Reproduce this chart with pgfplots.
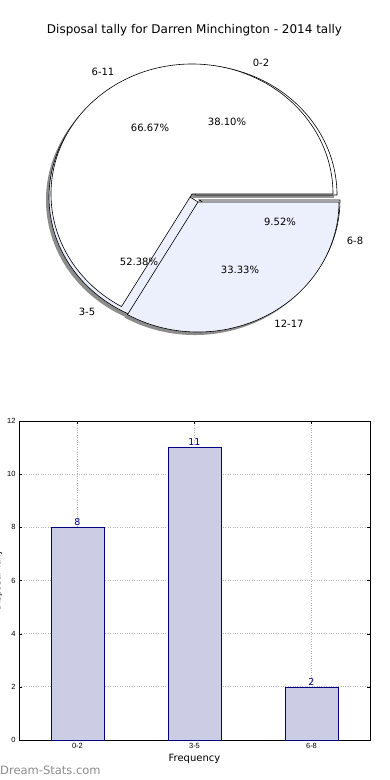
\documentclass[border=0pt]{standalone}
\usepackage{fontspec}
\setmainfont{DejaVu Sans}
\newfontfamily\lib{Liberation Sans}
\usepackage{pgfplots}
\pgfplotsset{compat=1.18}
\usepackage{pgfplotstable}

\definecolor{pieblue}{HTML}{EBF0FC}
\definecolor{barfill}{HTML}{CCCCE5}
\definecolor{navy}{HTML}{000080}

% bar chart data
\pgfplotstableread{
idx label value
0 0-2 8
1 3-5 11
2 6-8 2
}\bardata

% wedge: cx cy startangle endangle style
\newcommand\piewedge[5]{%
  \filldraw[#5] (axis cs:#1,#2) -- ++(#3:141pt and 130pt)
    arc[start angle=#3, end angle=#4, x radius=141pt, y radius=130pt] -- cycle;}

\begin{document}
\begin{tikzpicture}
% ---------------- pie part ----------------
\begin{axis}[at={(0pt,390pt)}, anchor=south west, scale only axis,
  width=390pt, height=390pt, xmin=0, xmax=390, ymin=0, ymax=390,
  hide axis, clip=false]
\addplot[draw=none] coordinates {(0,0) (390,390)};
% shadows
\piewedge{193}{192}{0}{137.143}{fill=black!40, draw=none}
\piewedge{187}{190}{137.143}{325.714}{fill=black!45, draw=none}
\piewedge{196}{187}{325.714}{360}{fill=black!45, draw=none}
\piewedge{189}{193}{0}{240}{fill=black!45, draw=none}
\piewedge{195}{185}{240}{360}{fill=black!45, draw=none}
% pie A (0-2, 3-5, 6-8)
\piewedge{196}{195}{0}{137.143}{fill=white, draw=black, line width=0.6pt}
\piewedge{190}{193}{137.143}{325.714}{fill=pieblue, draw=black, line width=0.6pt}
\piewedge{199}{190}{325.714}{360}{fill=white, draw=black, line width=0.6pt}
% pie B (6-11, 12-17)
\piewedge{192}{196}{0}{240}{fill=white, draw=black, line width=0.6pt}
\piewedge{198}{188}{240}{360}{fill=pieblue, draw=black, line width=0.6pt}
% labels
\begin{scope}[every node/.style={font=\fontsize{10}{12}\selectfont, inner sep=0pt}]
\node at (axis cs:261,327) {0-2};
\node at (axis cs:103,318) {6-11};
\node at (axis cs:355,149) {6-8};
\node at (axis cs:87,78) {3-5};
\node at (axis cs:289,66) {12-17};
\node at (axis cs:227,268) {38.10\%};
\node at (axis cs:150,262) {66.67\%};
\node at (axis cs:280,168) {9.52\%};
\node at (axis cs:139,128) {52.38\%};
\node at (axis cs:240,120) {33.33\%};
\node[font=\fontsize{12}{14}\selectfont] at (axis cs:194.5,360) {Disposal tally for Darren Minchington - 2014 tally};
\end{scope}
\end{axis}

% ---------------- bar part ----------------
\begin{axis}[at={(19pt,40pt)}, anchor=south west, scale only axis,
  width=351pt, height=319pt, xmin=-0.5, xmax=2.5, ymin=0, ymax=12,
  ybar, bar width=0.45,
  ytick={0,2,...,12}, xtick={0,1,2}, xticklabels={0-2,3-5,6-8},
  grid=major, grid style={dotted, gray!60, line width=0.7pt},
  tick align=inside, major tick length=3pt, tick style={black},
  ticklabel style={font=\lib\fontsize{7.5}{9}\selectfont},
  /pgf/number format/assume math mode=true,
  xlabel={Frequency}, xlabel style={font=\fontsize{10}{12}\selectfont, yshift=2pt},
  ylabel={Disposal Tally},
  ylabel style={font=\fontsize{9}{11}\selectfont, at={([xshift=-21pt]axis description cs:0,0.5)}, anchor=center},
  axis line style={black, line width=0.8pt},
  nodes near coords,
  nodes near coords style={navy, font=\fontsize{9.5}{11}\selectfont, inner sep=1.5pt},
]
\addplot[fill=barfill, draw=navy, line width=0.6pt] table[x=idx, y=value] {\bardata};
\end{axis}

\node[anchor=west, font=\fontsize{11.5}{13}\selectfont, text=black!45, inner sep=0pt] at (0pt,10pt) {Dream-Stats.com};

\pgfresetboundingbox
\path[use as bounding box] (0,0) rectangle (390pt,780pt);
\end{tikzpicture}
\end{document}
